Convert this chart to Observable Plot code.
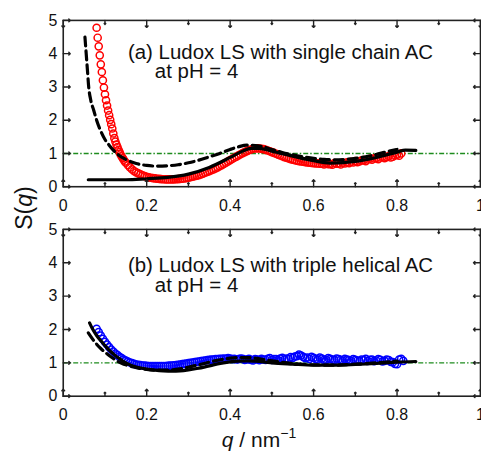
<!DOCTYPE html>
<html>
<head>
<meta charset="utf-8">
<script src="https://cdn.jsdelivr.net/npm/d3@7"></script>
<script src="https://cdn.jsdelivr.net/npm/@observablehq/plot@0.6"></script>
<style>
  html, body { margin: 0; padding: 0; background: #fff; }
  #wrap { position: relative; width: 481px; height: 453px; overflow: hidden; font-family: "Liberation Sans", Arial, Helvetica, sans-serif; color: #111; }
  #wrap svg { position: absolute; left: 0; }
  #ylab { position: absolute; left: 24px; top: 208px; transform: translate(-50%, -50%) rotate(-90deg); font-size: 23px; white-space: nowrap; }
  #xlab { position: absolute; left: 259px; top: 451px; transform: translate(-50%, -100%); font-size: 21px; white-space: nowrap; line-height: 1.1; }
  #xlab sup { font-size: 14px; vertical-align: 9px; line-height: 0; }
</style>
</head>
<body>
<div id="wrap">
  <div id="ylab">S(<i>q</i>)</div>
  <div id="xlab"><i>q</i> / nm<sup>−1</sup></div>
</div>
<script>
// ---------- DATA ----------
const xMajorTicks = [0, 0.2, 0.4, 0.6, 0.8, 1];
const xMinorTicks = [0.1, 0.3, 0.5, 0.7, 0.9];
const yTicks = [0, 1, 2, 3, 4, 5];
const referenceLevel = [1];

// Panel (a): single chain AC — measured S(q) (red circles)
const qA = [0.0800,0.0825,0.0850,0.0875,0.0900,0.0925,0.0950,0.0975,0.1000,0.1025,0.1050,0.1075,0.1100,0.1125,0.1150,0.1175,0.1200,0.1225,0.1250,0.1275,0.1300,0.1325,0.1350,0.1375,0.1400,0.1425,0.1450,0.1475,0.1500,
  0.155,0.160,0.165,0.170,0.175,0.180,0.185,0.190,0.195,0.200,0.205,0.210,0.215,0.220,0.225,0.230,0.235,0.240,0.245,0.250,
  0.255,0.260,0.265,0.270,0.275,0.280,0.285,0.290,0.295,0.300,0.305,0.310,0.315,0.320,0.325,0.330,0.335,0.340,0.345,0.350,
  0.355,0.360,0.365,0.370,0.375,0.380,0.385,0.390,0.395,0.400,0.405,0.410,0.415,0.420,0.425,0.430,0.435,0.440,0.445,0.450,
  0.455,0.460,0.465,0.470,0.475,0.480,0.485,0.490,0.495,0.500,0.505,0.510,0.515,0.520,0.525,0.530,0.535,0.540,0.545,0.550,
  0.555,0.560,0.565,0.570,0.575,0.580,0.585,0.590,0.595,0.600,0.605,0.610,0.615,0.620,0.625,0.630,0.635,0.640,0.645,0.650,
  0.655,0.660,0.665,0.670,0.675,0.680,0.685,0.690,0.695,0.700,0.705,0.710,0.715,0.720,0.725,0.730,0.735,0.740,0.745,0.750,
  0.755,0.760,0.765,0.770,0.775,0.780,0.785,0.790,0.795,0.800,0.805,0.810];
const sA = [4.78,4.48,4.22,3.95,3.68,3.45,3.20,2.98,2.78,2.60,2.44,2.29,2.15,2.01,1.88,1.75,1.60,1.46,1.36,1.27,1.19,1.11,1.04,0.97,0.91,0.86,0.81,0.76,0.72,
  0.65,0.58,0.52,0.47,0.43,0.40,0.37,0.34,0.32,0.30,0.28,0.27,0.26,0.25,0.24,0.235,0.23,0.225,0.22,0.22,
  0.22,0.22,0.222,0.225,0.23,0.235,0.242,0.25,0.26,0.27,0.285,0.30,0.315,0.33,0.35,0.37,0.395,0.42,0.445,0.47,
  0.495,0.52,0.55,0.58,0.615,0.65,0.685,0.72,0.76,0.80,0.835,0.87,0.905,0.94,0.975,1.01,1.04,1.07,1.095,1.12,
  1.14,1.15,1.155,1.15,1.14,1.13,1.11,1.09,1.065,1.04,1.015,0.99,0.965,0.94,0.915,0.89,0.87,0.85,0.83,0.81,
  0.795,0.78,0.77,0.76,0.75,0.74,0.73,0.72,0.715,0.71,0.70,0.70,0.69,0.69,0.67,0.70,0.68,0.68,0.66,0.71,
  0.69,0.70,0.67,0.72,0.70,0.73,0.71,0.75,0.73,0.77,0.74,0.76,0.79,0.80,0.77,0.82,0.84,0.81,0.85,0.86,
  0.83,0.88,0.90,0.86,0.89,0.92,0.88,0.90,0.94,0.96,0.93,1.00];

// Panel (a) model fits
const qAsolid = [0.06,0.10,0.15,0.20,0.25,0.30,0.35,0.40,0.43,0.45,0.47,0.50,0.55,0.60,0.64,0.70,0.75,0.80,0.82,0.845];
const sAsolid = [0.21,0.21,0.21,0.24,0.28,0.38,0.58,0.88,1.07,1.15,1.15,1.07,0.92,0.78,0.71,0.76,0.88,1.04,1.10,1.09];
const qAdash = [0.052,0.055,0.058,0.061,0.066,0.073,0.080,0.089,0.100,0.110,0.120,0.135,0.150,0.175,0.200,0.225,0.250,0.275,0.300,0.325,0.350,0.375,0.400,0.420,0.440,0.460,0.480,0.500,0.525,0.550,0.575,0.600,0.625,0.650,0.675,0.700,0.725,0.750,0.775,0.800];
const sAdash = [4.50,4.00,3.50,3.00,2.60,2.30,2.00,1.70,1.42,1.25,1.10,0.93,0.82,0.70,0.64,0.62,0.63,0.66,0.72,0.80,0.90,1.00,1.12,1.20,1.25,1.24,1.20,1.12,1.03,0.96,0.90,0.85,0.82,0.81,0.82,0.85,0.90,0.97,1.05,1.12];

// Panel (b): triple helical AC — measured S(q) (blue circles)
const qB = [0.080,0.085,0.090,0.095,0.100,0.105,0.110,0.115,0.120,0.125,0.130,0.135,0.140,0.145,0.150,0.155,0.160,0.165,0.170,0.175,
  0.180,0.185,0.190,0.195,0.200,0.205,0.210,0.215,0.220,0.225,0.230,0.235,0.240,0.245,0.250,0.255,0.260,0.265,0.270,0.275,
  0.280,0.285,0.290,0.295,0.300,0.305,0.310,0.315,0.320,0.325,0.330,0.335,0.340,0.345,0.350,0.355,0.360,0.365,0.370,0.375,
  0.380,0.385,0.390,0.395,0.400,0.405,0.410,0.415,0.420,0.425,0.430,0.435,0.440,0.445,0.450,0.455,0.460,0.465,0.470,0.475,
  0.480,0.485,0.490,0.495,0.500,0.505,0.510,0.515,0.520,0.525,0.530,0.535,0.540,0.545,0.550,0.555,0.560,0.565,0.570,0.575,
  0.580,0.585,0.590,0.595,0.600,0.605,0.610,0.615,0.620,0.625,0.630,0.635,0.640,0.645,0.650,0.655,0.660,0.665,0.670,0.675,
  0.680,0.685,0.690,0.695,0.700,0.705,0.710,0.715,0.720,0.725,0.730,0.735,0.740,0.745,0.750,0.755,0.760,0.765,0.770,0.775,
  0.780,0.785,0.790,0.795,0.800,0.805,0.810,0.815];
const sB = [2.02,1.92,1.82,1.72,1.63,1.55,1.47,1.40,1.34,1.28,1.23,1.18,1.14,1.10,1.07,1.04,1.01,0.99,0.97,0.95,
  0.94,0.93,0.92,0.915,0.91,0.905,0.90,0.90,0.90,0.90,0.90,0.90,0.90,0.905,0.91,0.915,0.92,0.925,0.93,0.94,
  0.95,0.96,0.97,0.98,0.99,1.00,1.01,1.02,1.03,1.04,1.05,1.06,1.07,1.08,1.09,1.095,1.10,1.11,1.11,1.12,
  1.12,1.13,1.12,1.14,1.13,1.11,1.12,1.10,1.11,1.13,1.12,1.09,1.10,1.12,1.09,1.07,1.11,1.10,1.08,1.12,
  1.10,1.09,1.12,1.14,1.09,1.11,1.11,1.08,1.13,1.15,1.10,1.13,1.12,1.17,1.15,1.19,1.20,1.25,1.22,1.18,
  1.14,1.16,1.12,1.18,1.15,1.12,1.10,1.16,1.13,1.09,1.09,1.14,1.12,1.10,1.08,1.13,1.11,1.09,1.07,1.12,
  1.10,1.08,1.06,1.11,1.09,1.07,1.05,1.10,1.08,1.12,1.06,1.09,1.10,1.05,1.07,1.11,1.09,1.04,1.06,1.10,
  1.08,1.03,1.02,0.97,0.96,1.10,1.12,1.06];

// Panel (b) model fits
const qBsolid = [0.063,0.07,0.08,0.09,0.10,0.11,0.12,0.13,0.14,0.15,0.16,0.18,0.20,0.22,0.24,0.26,0.28,0.30,0.32,0.34,0.36,0.38,0.40,0.42,0.44,0.46,0.48,0.50,0.55,0.60,0.65,0.70,0.75,0.80,0.845];
const sBsolid = [2.20,2.02,1.82,1.66,1.52,1.38,1.27,1.17,1.08,1.00,0.94,0.86,0.81,0.78,0.76,0.75,0.76,0.79,0.83,0.88,0.94,0.99,1.03,1.05,1.06,1.05,1.03,1.00,0.96,0.93,0.93,0.95,0.98,1.02,1.04];
const qBdash = [0.06,0.07,0.08,0.09,0.10,0.11,0.12,0.13,0.14,0.15,0.16,0.18,0.20,0.22,0.24,0.26,0.28,0.30,0.32,0.34,0.36,0.38,0.40,0.42,0.44,0.46,0.48,0.50,0.55,0.60,0.65,0.70,0.75,0.80];
const sBdash = [1.90,1.72,1.56,1.43,1.32,1.22,1.13,1.05,0.99,0.94,0.90,0.84,0.80,0.78,0.78,0.79,0.82,0.87,0.93,0.99,1.05,1.10,1.14,1.16,1.16,1.14,1.10,1.06,0.98,0.94,0.93,0.96,1.00,1.05];

const titleA = ["(a) Ludox LS with single chain AC", "at pH = 4"];
const titleB = ["(b) Ludox LS with triple helical AC", "at pH = 4"];

// ---------- DRAW ----------
const zip = (qs, ss) => qs.map((q, i) => ({q, s: ss[i]}));
const FONT = '"Liberation Sans", Arial, Helvetica, sans-serif';

function panel({points, color, solid, dashed, title, titleDy, height, marginBottom, top}) {
  const svg = Plot.plot({
    width: 483, height,
    marginLeft: 63, marginRight: 1, marginTop: 20, marginBottom,
    x: {domain: [0, 1]},
    y: {domain: [0, 5]},
    style: {fontFamily: FONT, fontSize: "16px", color: "#111", background: "transparent", overflow: "visible"},
    marks: [
      Plot.ruleY(referenceLevel, {stroke: "#1e8c1e", strokeWidth: 1.4, strokeDasharray: "5,2,1.5,2"}),
      Plot.dot(points, {x: "q", y: "s", r: 3.6, stroke: color, strokeWidth: 1.5, fill: "none"}),
      Plot.line(solid, {x: "q", y: "s", stroke: "#000", strokeWidth: 3.2, curve: "monotone-x"}),
      Plot.line(dashed, {x: "q", y: "s", stroke: "#000", strokeWidth: 3.2, strokeDasharray: "9,5", curve: "monotone-x"}),
      Plot.frame({stroke: "#222", strokeWidth: 1.6}),
      // inward ticks
      Plot.vector(xMajorTicks, {x: d => d, frameAnchor: "bottom", length: 7, rotate: 0, anchor: "start", stroke: "#222", strokeWidth: 1.4}),
      Plot.vector(xMinorTicks, {x: d => d, frameAnchor: "bottom", length: 4, rotate: 0, anchor: "start", stroke: "#222", strokeWidth: 1.4}),
      Plot.vector(xMajorTicks, {x: d => d, frameAnchor: "top", length: 7, rotate: 180, anchor: "start", stroke: "#222", strokeWidth: 1.4}),
      Plot.vector(xMinorTicks, {x: d => d, frameAnchor: "top", length: 4, rotate: 180, anchor: "start", stroke: "#222", strokeWidth: 1.4}),
      Plot.vector(yTicks, {y: d => d, frameAnchor: "left", length: 7, rotate: 90, anchor: "start", stroke: "#222", strokeWidth: 1.4}),
      Plot.vector(yTicks, {y: d => d, frameAnchor: "right", length: 7, rotate: -90, anchor: "start", stroke: "#222", strokeWidth: 1.4}),
      Plot.axisX({ticks: xMajorTicks, tickSize: 0, tickPadding: 13, tickFormat: d => String(d), label: null}),
      Plot.axisY({ticks: yTicks, tickSize: 0, tickPadding: 6, tickFormat: d => String(d), label: null}),
      Plot.text([title[0]], {frameAnchor: "top-left", dx: 65, dy: titleDy, textAnchor: "start", lineAnchor: "bottom", fontSize: 20.5, fill: "#111"}),
      Plot.text([title[1]], {frameAnchor: "top-left", dx: 92, dy: titleDy + 20, textAnchor: "start", lineAnchor: "bottom", fontSize: 20.5, fill: "#111"})
    ]
  });
  svg.style.top = top + "px";
  return svg;
}

const wrap = document.getElementById("wrap");
wrap.appendChild(panel({points: zip(qA, sA), color: "#ff0000", solid: zip(qAsolid, sAsolid), dashed: zip(qAdash, sAdash), title: titleA, titleDy: 38.3, height: 220, marginBottom: 33, top: 0}));
wrap.appendChild(panel({points: zip(qB, sB), color: "#0000ff", solid: zip(qBsolid, sBsolid), dashed: zip(qBdash, sBdash), title: titleB, titleDy: 42.4, height: 244, marginBottom: 56.5, top: 209}));
</script>
</body>
</html>
